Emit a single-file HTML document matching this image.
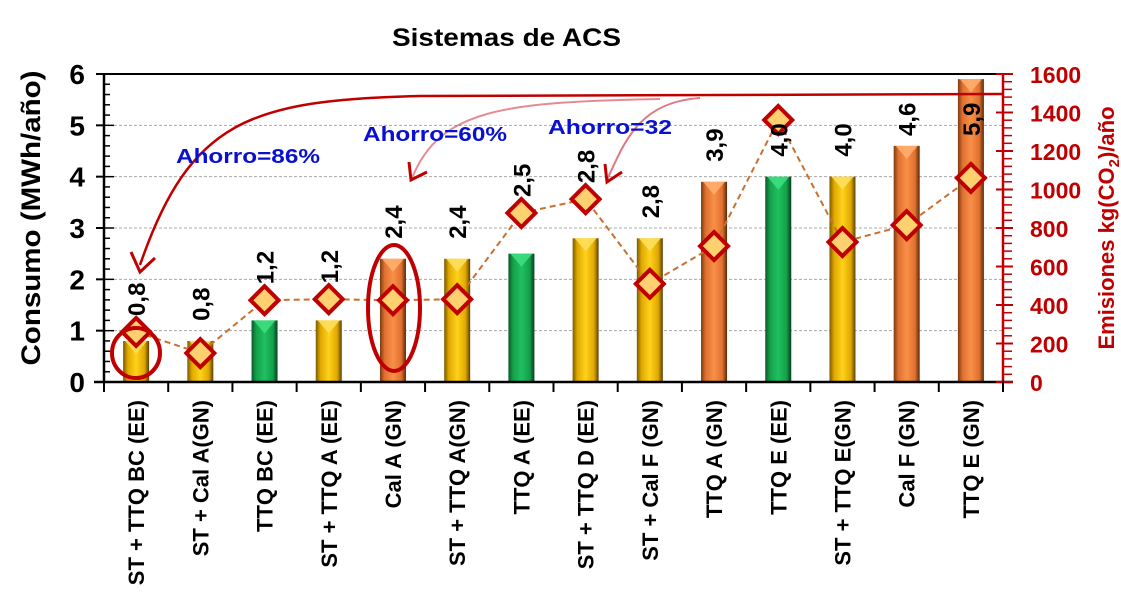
<!DOCTYPE html>
<html><head><meta charset="utf-8"><style>
body{margin:0;background:#fff;}
svg{display:block;font-family:"Liberation Sans",sans-serif;font-weight:bold;}
</style></head><body>
<svg id="chart" width="1121" height="614" viewBox="0 0 1121 614" xmlns="http://www.w3.org/2000/svg">
<defs>
<linearGradient id="gGold" x1="0" x2="1"><stop offset="0" stop-color="#7a5a00"/><stop offset="0.18" stop-color="#e0a800"/><stop offset="0.5" stop-color="#ffd21a"/><stop offset="0.82" stop-color="#e0a800"/><stop offset="1" stop-color="#5a4000"/></linearGradient>
<linearGradient id="gGreen" x1="0" x2="1"><stop offset="0" stop-color="#0b5a2a"/><stop offset="0.18" stop-color="#14a04a"/><stop offset="0.5" stop-color="#1fc060"/><stop offset="0.82" stop-color="#14a04a"/><stop offset="1" stop-color="#063d1c"/></linearGradient>
<linearGradient id="gOrange" x1="0" x2="1"><stop offset="0" stop-color="#7a3a10"/><stop offset="0.18" stop-color="#e07030"/><stop offset="0.5" stop-color="#f89048"/><stop offset="0.82" stop-color="#e07030"/><stop offset="1" stop-color="#5a2808"/></linearGradient>
</defs>
<text x="392" y="46" font-size="25" textLength="229" lengthAdjust="spacingAndGlyphs" fill="#000">Sistemas de ACS</text>
<g id="grid"></g>
<g id="bars"></g>
<g id="axes"></g>
<g id="line"></g>
<g id="labels"></g>
<g id="annot">
<path d="M1003,94 L420,96 C250,100 190,120 140,265" fill="none" stroke="#c00000" stroke-width="2.5"/>
<path d="M131,252 L140,272 L155,258" fill="none" stroke="#c00000" stroke-width="3"/>
<path d="M660,99 C500,102 440,110 412,178" fill="none" stroke="#d04050" stroke-opacity="0.6" stroke-width="2"/>
<path d="M409,162 L411,180 L427,172" fill="none" stroke="#c00000" stroke-width="3"/>
<path d="M700,98 C640,102 625,140 607,180" fill="none" stroke="#d04050" stroke-opacity="0.7" stroke-width="2"/>
<path d="M605,164 L607,182 L622,172" fill="none" stroke="#c00000" stroke-width="3"/>
<ellipse cx="136" cy="353" rx="24" ry="25" fill="none" stroke="#c00000" stroke-width="4"/>
<ellipse cx="394" cy="308" rx="26" ry="63" fill="none" stroke="#c00000" stroke-width="4"/>
<text x="176" y="163" font-size="20" textLength="144" lengthAdjust="spacingAndGlyphs" fill="#0a10d0">Ahorro=86%</text>
<text x="363" y="141" font-size="20" textLength="144" lengthAdjust="spacingAndGlyphs" fill="#0a10d0">Ahorro=60%</text>
<text x="548" y="134" font-size="20" textLength="124" lengthAdjust="spacingAndGlyphs" fill="#0a10d0">Ahorro=32</text>
</g>
<text transform="translate(40,218) rotate(-90)" font-size="27" text-anchor="middle" textLength="295" lengthAdjust="spacingAndGlyphs" fill="#000">Consumo (MWh/año)</text>
<text transform="translate(1114,228) rotate(-90)" font-size="22" text-anchor="middle" fill="#c00000">Emisiones kg(CO<tspan font-size="15" dy="5">2</tspan><tspan dy="-5">)/año</tspan></text>
</svg>
<script>
const categories=["ST + TTQ BC (EE)","ST + Cal A(GN)","TTQ BC (EE)","ST + TTQ A (EE)","Cal A (GN)","ST + TTQ A(GN)","TTQ A (EE)","ST + TTQ D (EE)","ST + Cal F (GN)","TTQ A (GN)","TTQ E (EE)","ST + TTQ E(GN)","Cal F (GN)","TTQ E (GN)"];
const consumo=[0.8,0.8,1.2,1.2,2.4,2.4,2.5,2.8,2.8,3.9,4.0,4.0,4.6,5.9];
const valueLabels=["0,8","0,8","1,2","1,2","2,4","2,4","2,5","2,8","2,8","3,9","4,0","4,0","4,6","5,9"];
const emisiones=[260,150,425,430,425,430,878,950,510,706,1361,727,815,1060];
const barTypes=["gold","gold","green","gold","orange","gold","green","gold","gold","orange","green","gold","orange","orange"];
const yTicks=[0,1,2,3,4,5,6];
const y2Ticks=[0,200,400,600,800,1000,1200,1400,1600];

(function(){
const NS="http://www.w3.org/2000/svg";
const X0=104,X1=1003,Y0=382,YT=74;
const step=(X1-X0)/categories.length;
const xc=i=>X0+step*(i+0.5);
const y=v=>Y0-(v/6)*(Y0-YT);
const y2=v=>Y0-(v/1600)*(Y0-YT);
function mk(tag,attrs,parent,txt){const e=document.createElementNS(NS,tag);for(const k in attrs)e.setAttribute(k,attrs[k]);if(txt!==undefined)e.textContent=txt;parent.appendChild(e);return e;}
const grid=document.getElementById('grid'),bars=document.getElementById('bars'),axes=document.getElementById('axes'),line=document.getElementById('line'),labels=document.getElementById('labels');

yTicks.forEach(t=>{if(t>0&&t<6){const g=mk('line',{x1:X0,x2:X1,y1:y(t),y2:y(t),stroke:'#aaa','stroke-dasharray':'3,2','stroke-width':1},grid);

}});

const fills={gold:'url(#gGold)',green:'url(#gGreen)',orange:'url(#gOrange)'};
const tops={gold:'#ffe060',green:'#40e080',orange:'#ffb070'};
consumo.forEach((v,i)=>{const bw=26,x=xc(i)-bw/2,yt=y(v);
const r=mk('rect',{x:x,y:yt,width:bw,height:Y0-yt,fill:fills[barTypes[i]]},bars);


const tp=mk('path',{d:`M${x+2},${yt} L${x+bw-2},${yt} L${x+bw/2},${yt+13} Z`,fill:tops[barTypes[i]],opacity:0.85},bars);


});

const ax=mk('line',{x1:X0,x2:X0,y1:YT,y2:Y0,stroke:'#000','stroke-width':2.5},axes);


const ax2=mk('line',{x1:X1,x2:X1,y1:YT,y2:Y0,stroke:'#c00000','stroke-width':2.5},axes);


const topBorder=mk('line',{x1:X0,x2:X1,y1:YT,y2:YT,stroke:'#000','stroke-width':2},axes);


const bx=mk('line',{x1:X0-10,x2:X1+10,y1:Y0,y2:Y0,stroke:'#000','stroke-width':2.5},axes);


for(let k=0;k<=30;k++){const yy=Y0-k*(Y0-YT)/30;mk('line',{x1:X0,x2:X0+(k%5?6:10),y1:yy,y2:yy,stroke:'#000','stroke-width':1.5},axes);}
yTicks.forEach(t=>{mk('line',{x1:X0-8,x2:X0,y1:y(t),y2:y(t),stroke:'#000','stroke-width':2},axes);
const tx=mk('text',{x:85,y:y(t)+10,'font-size':28,'text-anchor':'end',fill:'#000'},axes,String(t));

});
for(let k=0;k<=40;k++){const yy=Y0-k*(Y0-YT)/40;mk('line',{x1:X1,x2:X1+(k%5?9:10),y1:yy,y2:yy,stroke:'#c00000','stroke-width':1.5},axes);}
y2Ticks.forEach(t=>{mk('line',{x1:X1-7,x2:X1+10,y1:y2(t),y2:y2(t),stroke:'#c00000','stroke-width':2},axes);
const tx=mk('text',{x:1030,y:y2(t)+9,'font-size':23,fill:'#c00000'},axes,String(t));

});
for(let i=0;i<=categories.length;i++){const xx=X0+step*i;mk('line',{x1:xx,x2:xx,y1:Y0,y2:Y0+10,stroke:'#000','stroke-width':2},axes);}
categories.forEach((c,i)=>{const t=mk('text',{transform:`translate(${xc(i)+8},400) rotate(-90)`,'font-size':22,'text-anchor':'end',fill:'#000'},labels,c);

});

const pts=emisiones.map((e,i)=>xc(i)+','+y2(e)).join(' ');
const pl=mk('polyline',{points:pts,fill:'none',stroke:'#c87030','stroke-width':2,'stroke-dasharray':'6,4'},line);


emisiones.forEach((e,i)=>{const cx=xc(i),cy=y2(e),s=14;
const d=mk('path',{d:`M${cx},${cy-s} L${cx+s},${cy} L${cx},${cy+s} L${cx-s},${cy} Z`,fill:'#ffd070',stroke:'#c00000','stroke-width':4},line);

});

consumo.forEach((v,i)=>{const yb=y(v),yd=y2(emisiones[i]);
let bottom=yb-20;
if(yd<yb+5&&yd>yb-45)bottom=Math.min(bottom,yd-16);
bottom=Math.max(bottom,136);
const t=mk('text',{transform:`translate(${xc(i)+9},${bottom}) rotate(-90)`,'font-size':24,fill:'#000'},labels,valueLabels[i]);

});
})();
</script>
</body></html>
